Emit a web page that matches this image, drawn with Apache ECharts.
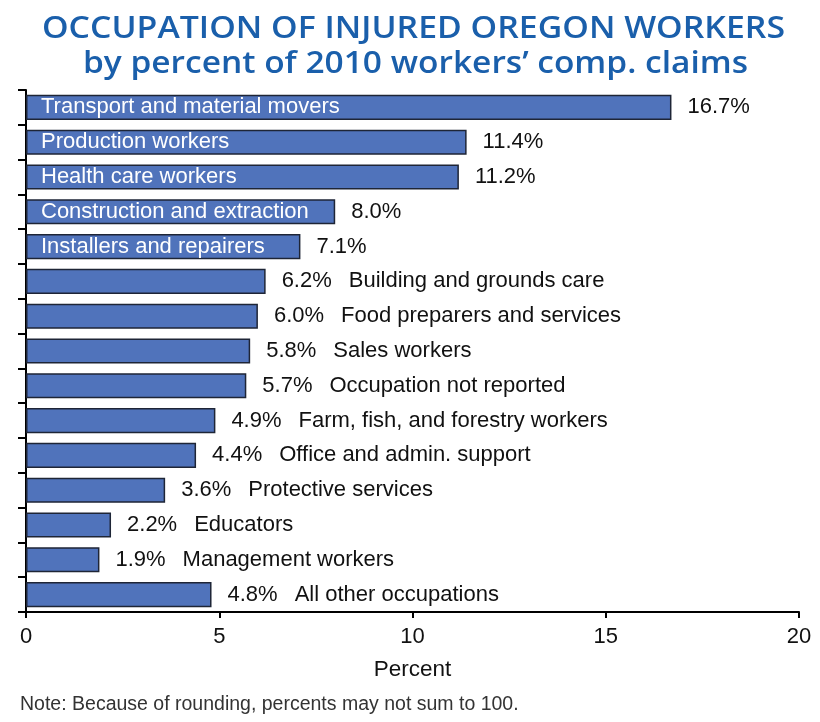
<!DOCTYPE html>
<html>
<head>
<meta charset="utf-8">
<script src="https://cdn.jsdelivr.net/npm/echarts@6/dist/echarts.min.js"></script>
<style>
html,body{margin:0;padding:0;background:#ffffff;}
#chart{width:820px;height:722px;}
</style>
</head>
<body>
<div id="chart"></div>
<script>
const categories = [
  "Transport and material movers",
  "Production workers",
  "Health care workers",
  "Construction and extraction",
  "Installers and repairers",
  "Building and grounds care",
  "Food preparers and services",
  "Sales workers",
  "Occupation not reported",
  "Farm, fish, and forestry workers",
  "Office and admin. support",
  "Protective services",
  "Educators",
  "Management workers",
  "All other occupations"
];
const values = [16.7, 11.4, 11.2, 8.0, 7.1, 6.2, 6.0, 5.8, 5.7, 4.9, 4.4, 3.6, 2.2, 1.9, 4.8];
const nameInsideCount = 5;
const xTicks = [0, 5, 10, 15, 20];
const titleLine1 = "OCCUPATION OF INJURED OREGON WORKERS";
const titleLine2 = "by percent of 2010 workers\u2019 comp. claims";
const noteText = "Note: Because of rounding, percents may not sum to 100.";

const font = "'Liberation Sans', Arial, sans-serif";
const titleFont = "600 30px 'Open Sans', sans-serif";

// measure title text to fit the original condensed width
const mctx = document.createElement('canvas').getContext('2d');
mctx.font = titleFont;
const w1 = mctx.measureText(titleLine1).width;
const w2 = mctx.measureText(titleLine2).width;
const target1 = 743, target2 = 665;

const mainData = values.map((v, i) => ({
  value: v,
  label: {
    show: true,
    position: 'right',
    distance: 16,
    formatter: i < nameInsideCount
      ? '{v|' + v.toFixed(1) + '%}'
      : '{v|' + v.toFixed(1) + '%}{n|' + categories[i] + '}',
    rich: {
      v: {fontSize: 22, fontFamily: font, color: '#111'},
      n: {fontSize: 22, fontFamily: font, color: '#111', padding: [0, 0, 0, 17]}
    }
  }
}));

const nameData = values.map((v, i) => ({
  value: v,
  label: {
    show: i < nameInsideCount,
    position: 'insideLeft',
    distance: 15,
    formatter: categories[i],
    fontSize: 22,
    fontFamily: font,
    color: '#ffffff'
  }
}));

const chart = echarts.init(document.getElementById('chart'), null, {renderer: 'canvas'});
chart.setOption({
  backgroundColor: '#ffffff',
  animation: false,
  title: [{
    text: noteText,
    left: 15,
    top: 690,
    textStyle: {fontFamily: font, fontWeight: 'normal', fontSize: 19.5, color: '#333'}
  }],
  graphic: [{
    type: 'text',
    x: 413.5,
    y: 29,
    scaleX: target1 / w1,
    style: {
      text: titleLine1,
      font: titleFont,
      fill: '#1a5fab',
      align: 'center',
      verticalAlign: 'middle'
    }
  }, {
    type: 'text',
    x: 415.5,
    y: 64,
    scaleX: target2 / w2,
    style: {
      text: titleLine2,
      font: titleFont,
      fill: '#1a5fab',
      align: 'center',
      verticalAlign: 'middle'
    }
  }],
  grid: {left: 26, right: 21, top: 90, bottom: 110, containLabel: false},
  xAxis: {
    type: 'value',
    min: xTicks[0],
    max: xTicks[xTicks.length - 1],
    interval: xTicks[1] - xTicks[0],
    axisLine: {show: true, lineStyle: {color: '#000', width: 2}},
    axisTick: {show: true, length: 6, lineStyle: {color: '#000', width: 2}},
    axisLabel: {fontSize: 22, fontFamily: font, color: '#111', margin: 14},
    splitLine: {show: false},
    name: 'Percent',
    nameLocation: 'middle',
    nameGap: 46,
    nameTextStyle: {fontSize: 22.5, fontFamily: font, color: '#111'}
  },
  yAxis: {
    type: 'category',
    inverse: true,
    data: categories,
    boundaryGap: true,
    axisLine: {show: true, lineStyle: {color: '#000', width: 2}},
    axisTick: {show: true, length: 8, lineStyle: {color: '#000', width: 2}},
    axisLabel: {show: false},
    splitLine: {show: false}
  },
  series: [{
    type: 'bar',
    data: mainData,
    barWidth: '72%',
    itemStyle: {color: '#5073bb', borderColor: '#1e2536', borderWidth: 1.5},
    z: 2
  }, {
    type: 'bar',
    data: nameData,
    barWidth: '72%',
    barGap: '-100%',
    silent: true,
    itemStyle: {color: 'rgba(0,0,0,0)', borderWidth: 0},
    z: 3
  }]
});
</script>
</body>
</html>
